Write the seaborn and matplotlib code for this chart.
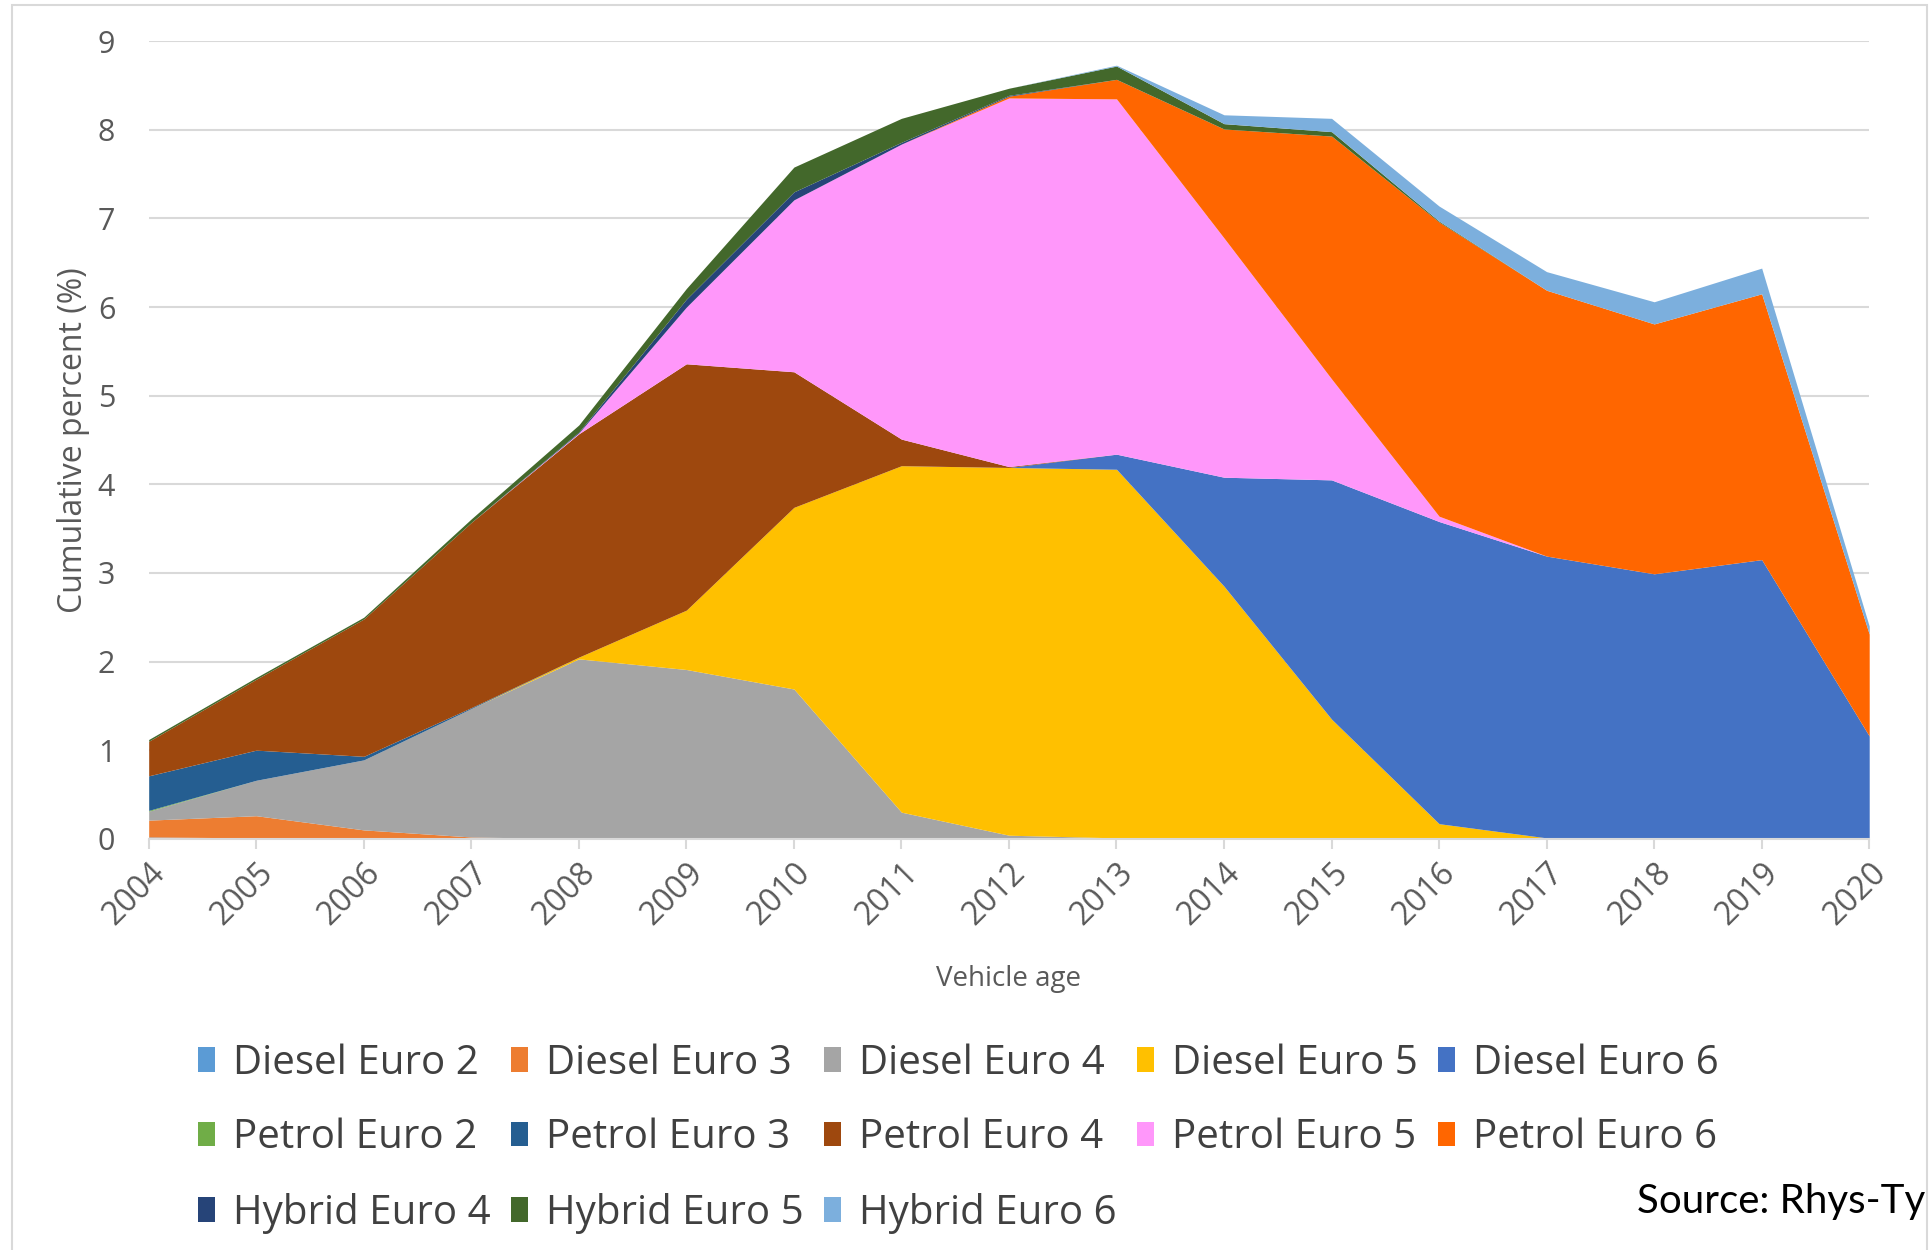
import pandas as pd
import matplotlib.pyplot as plt
import seaborn as sns
from matplotlib.patches import Patch, Rectangle

# データ（各年の値、累積ではない）
years = list(range(2004, 2021))

diesel_euro2 = [0.02, 0.01, 0, 0, 0, 0, 0, 0, 0, 0, 0, 0, 0, 0, 0, 0, 0]
diesel_euro3 = [0.19, 0.25, 0.10, 0.02, 0, 0, 0, 0, 0, 0, 0, 0, 0, 0, 0, 0, 0]
diesel_euro4 = [0.10, 0.40, 0.79, 1.45, 2.03, 1.91, 1.69, 0.30, 0.04, 0.01, 0, 0, 0, 0, 0, 0, 0]
diesel_euro5 = [0, 0, 0, 0, 0.02, 0.67, 2.05, 3.91, 4.15, 4.16, 2.85, 1.35, 0.17, 0.01, 0, 0, 0]
diesel_euro6 = [0, 0, 0, 0, 0, 0, 0, 0, 0, 0.17, 1.23, 2.70, 3.41, 3.18, 2.99, 3.15, 1.16]
petrol_euro2 = [0.01, 0, 0, 0, 0, 0, 0, 0, 0, 0, 0, 0, 0, 0, 0, 0, 0]
petrol_euro3 = [0.39, 0.34, 0.04, 0.01, 0, 0, 0, 0, 0, 0, 0, 0, 0, 0, 0, 0, 0]
petrol_euro4 = [0.39, 0.80, 1.55, 2.09, 2.52, 2.78, 1.53, 0.30, 0.01, 0, 0, 0, 0, 0, 0, 0, 0]
petrol_euro5 = [0, 0, 0, 0, 0.01, 0.64, 1.94, 3.33, 4.16, 4.01, 2.70, 1.14, 0.06, 0, 0, 0, 0]
petrol_euro6 = [0, 0, 0, 0, 0, 0, 0, 0, 0.02, 0.22, 1.23, 2.74, 3.32, 3.00, 2.82, 3.00, 1.15]
hybrid_euro4 = [0, 0, 0, 0, 0.01, 0.09, 0.09, 0.02, 0.01, 0, 0, 0, 0, 0, 0, 0, 0]
hybrid_euro5 = [0.02, 0.02, 0.02, 0.04, 0.08, 0.12, 0.28, 0.27, 0.08, 0.15, 0.06, 0.05, 0.01, 0, 0, 0, 0]
hybrid_euro6 = [0, 0, 0, 0, 0, 0, 0, 0, 0, 0.01, 0.10, 0.15, 0.17, 0.21, 0.25, 0.29, 0.09]

series = {
    "Diesel Euro 2": diesel_euro2,
    "Diesel Euro 3": diesel_euro3,
    "Diesel Euro 4": diesel_euro4,
    "Diesel Euro 5": diesel_euro5,
    "Diesel Euro 6": diesel_euro6,
    "Petrol Euro 2": petrol_euro2,
    "Petrol Euro 3": petrol_euro3,
    "Petrol Euro 4": petrol_euro4,
    "Petrol Euro 5": petrol_euro5,
    "Petrol Euro 6": petrol_euro6,
    "Hybrid Euro 4": hybrid_euro4,
    "Hybrid Euro 5": hybrid_euro5,
    "Hybrid Euro 6": hybrid_euro6,
}
colors = {
    "Diesel Euro 2": "#5B9BD5",
    "Diesel Euro 3": "#ED7D31",
    "Diesel Euro 4": "#A5A5A5",
    "Diesel Euro 5": "#FFC000",
    "Diesel Euro 6": "#4472C4",
    "Petrol Euro 2": "#70AD47",
    "Petrol Euro 3": "#255E91",
    "Petrol Euro 4": "#9E480E",
    "Petrol Euro 5": "#FF97FA",
    "Petrol Euro 6": "#FF6600",
    "Hybrid Euro 4": "#264478",
    "Hybrid Euro 5": "#43682B",
    "Hybrid Euro 6": "#7CAFDD",
}
names = list(series.keys())

# 縦長形式に変換
rows = []
for name, vals in series.items():
    for y, v in zip(years, vals):
        rows.append({"year": y, "type": name, "value": v})
df = pd.DataFrame(rows)

sns.set_theme(style="white")
plt.rcParams["font.family"] = ["Open Sans", "DejaVu Sans"]
grey = "#595959"

fig = plt.figure(figsize=(19.31, 12.5), dpi=100)
ax = fig.add_axes([0.077, 0.329, 0.891, 0.638])

# 積み上げ面グラフ（最初のhueが上になるので逆順）
sns.histplot(data=df, x="year", weights="value", hue="type",
             hue_order=names[::-1], palette=colors, multiple="stack",
             element="poly", discrete=True, alpha=1, linewidth=0,
             legend=False, ax=ax)

ax.set_xlim(2004, 2020)
ax.set_ylim(0, 9)
ax.set_xticks(years)
ax.set_xticklabels([str(y) for y in years], rotation=45, ha="right",
                   rotation_mode="anchor", fontsize=23, color=grey)
ax.set_yticks(range(0, 10))
ax.set_yticklabels([str(i) for i in range(10)], fontsize=22, color=grey)
ax.yaxis.grid(True, color="#D9D9D9", linewidth=1.5)
ax.set_axisbelow(True)
for s in ["top", "right", "left"]:
    ax.spines[s].set_visible(False)
ax.spines["bottom"].set_color("#D9D9D9")
ax.spines["bottom"].set_linewidth(1.5)
ax.tick_params(axis="x", length=7, width=1.5, color="#D9D9D9", pad=6, bottom=True)
ax.tick_params(axis="y", length=0, pad=24)
ax.set_xlabel("Vehicle age", fontsize=20, color=grey, labelpad=24)
ax.set_ylabel("Cumulative percent (%)", fontsize=23, color=grey, labelpad=6)

# 凡例（行ごとに並ぶように順序を入れ替え）
leg_order = ["Diesel Euro 2", "Petrol Euro 2", "Hybrid Euro 4",
             "Diesel Euro 3", "Petrol Euro 3", "Hybrid Euro 5",
             "Diesel Euro 4", "Petrol Euro 4", "Hybrid Euro 6",
             "Diesel Euro 5", "Petrol Euro 5",
             "Diesel Euro 6", "Petrol Euro 6"]
handles = [Patch(facecolor=colors[n], edgecolor="none") for n in leg_order]
fig.legend(handles, leg_order, loc="upper left", bbox_to_anchor=(0.088, 0.188),
           ncol=5, frameon=False, fontsize=29, labelcolor="#404040",
           handlelength=0.42, handleheight=0.55, handletextpad=0.45,
           columnspacing=0.5, labelspacing=0.85, borderpad=0.2)

fig.text(0.848, 0.03, "Source: Rhys-Ty", fontsize=29, color="black",
         family=["Lato", "DejaVu Sans"])

# 外枠
fig.patches.append(Rectangle((0.006, -0.01), 0.992, 1.006, transform=fig.transFigure,
                             fill=False, edgecolor="#D9D9D9", linewidth=1.5))

plt.savefig("out.png")
